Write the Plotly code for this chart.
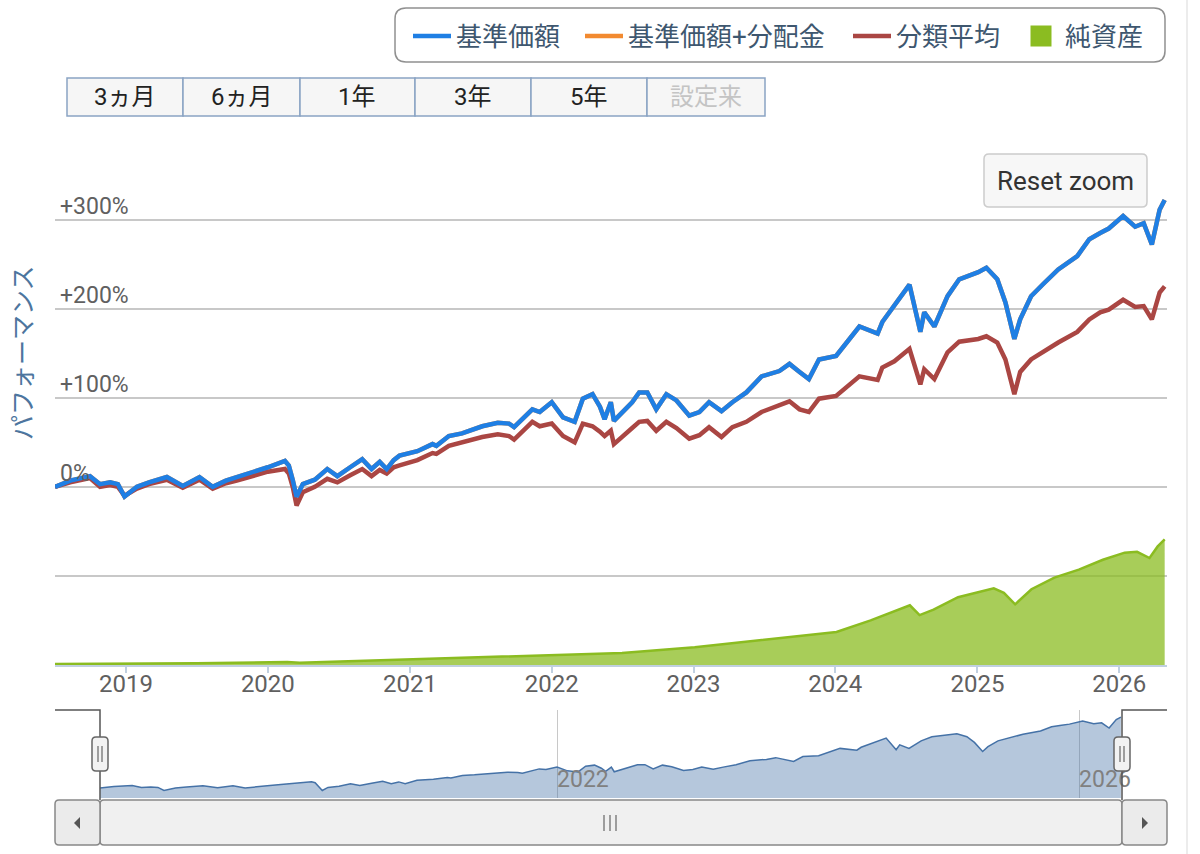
import plotly.graph_objects as go

W, H = 1200, 854
L, R = 55, 1167  # plot area left/right in px

# ---- data ----
dates = [
    "2018-07-02", "2018-08-10", "2018-09-30", "2018-10-26", "2018-11-21", "2018-12-11",
    "2018-12-28", "2019-01-29", "2019-03-01", "2019-04-16", "2019-05-27", "2019-07-09",
    "2019-08-12", "2019-09-15", "2019-10-13", "2019-11-20", "2020-01-01", "2020-02-14",
    "2020-02-24", "2020-03-05", "2020-03-15", "2020-03-31", "2020-05-01", "2020-06-02",
    "2020-06-28", "2020-07-31", "2020-08-31", "2020-09-24", "2020-10-15", "2020-11-02",
    "2020-11-20", "2020-12-05", "2021-01-20", "2021-02-28", "2021-03-10", "2021-04-11",
    "2021-05-15", "2021-07-06", "2021-08-15", "2021-09-13", "2021-09-26", "2021-11-12",
    "2021-12-01", "2022-01-01", "2022-01-30", "2022-03-01", "2022-03-22", "2022-04-16",
    "2022-05-05", "2022-05-17", "2022-06-02", "2022-06-10", "2022-07-27", "2022-08-14",
    "2022-09-04", "2022-09-27", "2022-10-23", "2022-11-18", "2022-12-21", "2023-01-16",
    "2023-02-10", "2023-03-14", "2023-04-11", "2023-05-17", "2023-06-25", "2023-08-10",
    "2023-09-05", "2023-10-01", "2023-10-25", "2023-11-20", "2024-01-03", "2024-03-03",
    "2024-04-19", "2024-05-01", "2024-06-01", "2024-07-10", "2024-08-07", "2024-08-17",
    "2024-09-12", "2024-10-16", "2024-11-15", "2025-01-03", "2025-01-24", "2025-02-21",
    "2025-03-14", "2025-04-06", "2025-04-21", "2025-05-19", "2025-06-20", "2025-07-28",
    "2025-09-15", "2025-10-16", "2025-11-13", "2025-12-05", "2026-01-11", "2026-02-11",
    "2026-03-05", "2026-03-26", "2026-04-15", "2026-04-28",
]
# 基準価額 performance (%)
nav_pct = [
    0, 7, 12, 3, 5, 3,
    -11, 0, 5, 11, 1, 11,
    0, 7, 11, 16, 22, 29,
    24, 8, -11, 3, 8, 20,
    12, 22, 31, 20, 28, 20,
    30, 35, 40, 48, 46, 57,
    60, 68, 72, 71, 67, 87,
    84, 95, 78, 73, 99, 104,
    90, 76, 95, 74, 95, 106,
    106, 87, 104, 97, 80, 84,
    95, 85, 95, 106, 124, 130,
    138, 129, 121, 143, 147, 180,
    172, 185, 203, 227, 174, 196,
    180, 214, 233, 241, 246, 233,
    207, 166, 188, 214, 228, 244,
    259, 278, 285, 290, 304, 292,
    296, 272, 311, 322,
]
# no distributions paid, so 基準価額+分配金 equals 基準価額
nav_dist_pct = list(nav_pct)
# 分類平均 performance (%)
cat_pct = [
    0, 5, 10, 0, 2, 0,
    -10, -2, 3, 8, -1, 8,
    -2, 4, 7, 12, 17, 20,
    15, 0, -21, -6, 0, 9,
    5, 13, 20, 12, 19, 15,
    22, 24, 30, 38, 37, 46,
    50, 56, 59, 57, 53, 73,
    68, 71, 57, 50, 71, 68,
    62, 57, 63, 48, 66, 73,
    74, 63, 73, 66, 54, 58,
    67, 56, 67, 73, 84, 91,
    96, 87, 84, 99, 102, 124,
    120, 134, 141, 155, 115, 132,
    121, 151, 163, 166, 169, 162,
    143, 104, 129, 143, 152, 162,
    174, 188, 196, 199, 210, 202,
    203, 188, 218, 225,
]
na_dates = [
    "2018-07-02", "2019-01-04", "2019-07-01", "2020-01-06", "2020-02-20", "2020-03-23",
    "2020-07-01", "2021-01-04", "2021-07-01", "2022-01-04", "2022-07-01", "2023-01-04",
    "2023-07-03", "2024-01-04", "2024-04-01", "2024-07-11", "2024-08-05", "2024-09-10",
    "2024-11-12", "2025-02-12", "2025-03-10", "2025-04-08", "2025-05-20", "2025-07-18",
    "2025-09-19", "2025-11-20", "2026-01-15", "2026-02-16", "2026-03-20", "2026-04-10",
    "2026-04-28",
]
# 純資産 (億円)
net_assets = [
    100, 120, 200, 300, 340, 250,
    380, 600, 900, 1150, 1350, 2000,
    2800, 3700, 5000, 6700, 5600, 6200,
    7600, 8600, 8100, 6800, 8500, 9800,
    10700, 11800, 12600, 12700, 12000, 13300,
    14100,
]

years = ["2019", "2020", "2021", "2022", "2023", "2024", "2025", "2026"]
perf_grid = [-200, -100, 0, 100, 200, 300, 400]
perf_ticks = [0, 100, 200, 300]
perf_labels = ["0%", "+100%", "+200%", "+300%"]
nav_years = ["2022", "2026"]
range_buttons = ["3ヵ月", "6ヵ月", "1年", "3年", "5年", "設定来"]

FONT = "Roboto, 'Noto Sans CJK JP', sans-serif"
BLUE = "#1f7fe4"
ORANGE = "#f28a30"
RED = "#aa4643"
GREEN = "#8bbc21"
GRID = "#c8c8c8"
AXIS = "#c0d0e0"


def px(x):
    return (x - L) / (R - L)


def py(y):
    return (H - y) / H


def rrect(x0, y0, x1, y1, r):
    p = [
        ("M", [(x0 + r, y0)]), ("L", [(x1 - r, y0)]), ("Q", [(x1, y0), (x1, y0 + r)]),
        ("L", [(x1, y1 - r)]), ("Q", [(x1, y1), (x1 - r, y1)]), ("L", [(x0 + r, y1)]),
        ("Q", [(x0, y1), (x0, y1 - r)]), ("L", [(x0, y0 + r)]), ("Q", [(x0, y0), (x0 + r, y0)]),
    ]
    s = ""
    for cmd, pts in p:
        s += cmd + " ".join(f"{px(a):.5f},{py(b):.5f}" for a, b in pts) + " "
    return s + "Z"


def poly(pts, close=False):
    s = "M" + " L".join(f"{px(a):.5f},{py(b):.5f}" for a, b in pts)
    return s + (" Z" if close else "")


fig = go.Figure()

fig.add_trace(go.Scatter(
    x=na_dates, y=net_assets, yaxis="y2", mode="lines", fill="tozeroy",
    line=dict(color=GREEN, width=2.5), fillcolor="rgba(139,188,33,0.75)",
    name="純資産", showlegend=False, legendgroup="na", hoverinfo="skip",
))
fig.add_trace(go.Scatter(x=dates, y=nav_dist_pct, mode="lines", name="基準価額+分配金",
                         line=dict(color=ORANGE, width=4.5), legend="legend2"))
fig.add_trace(go.Scatter(x=dates, y=cat_pct, mode="lines", name="分類平均",
                         line=dict(color=RED, width=4.5), legend="legend3"))
fig.add_trace(go.Scatter(x=dates, y=nav_pct, mode="lines", name="基準価額",
                         line=dict(color=BLUE, width=4.5), legend="legend"))
fig.add_trace(go.Scatter(
    x=[None], y=[None], mode="markers", name="純資産", legendgroup="na", legend="legend4",
    marker=dict(symbol="square", size=16, color=GREEN, line=dict(color=GREEN, width=5)),
))
# navigator: 基準価額 as index level (start = 100)
fig.add_trace(go.Scatter(
    x=dates, y=[100 + v for v in nav_pct], xaxis="x2", yaxis="y3", mode="lines",
    fill="tozeroy", line=dict(color="#4572a7", width=1.5),
    fillcolor="rgba(69,114,167,0.4)", showlegend=False, hoverinfo="skip",
))

shapes = []
# legend frame
shapes.append(dict(type="path", path=rrect(395, 8, 1165, 62, 11), xref="paper", yref="paper",
                   line=dict(color="#909090", width=1.5), layer="below"))
# range selector buttons
edges = [67, 183, 300, 415, 531, 647, 765]
for i in range(len(range_buttons)):
    shapes.append(dict(type="rect", xref="paper", yref="paper",
                       x0=px(edges[i]), x1=px(edges[i + 1]), y0=py(116), y1=py(78),
                       fillcolor="#f6f6f6", line=dict(color="#8aa4c4", width=1.5), layer="below"))
# reset zoom button
shapes.append(dict(type="path", path=rrect(984, 154, 1147, 207, 5), xref="paper", yref="paper",
                   fillcolor="#f7f7f7", line=dict(color="#cccccc", width=1.5)))
# navigator outline
shapes.append(dict(type="path", path=poly([(55, 710), (100, 710), (100, 800)]),
                   xref="paper", yref="paper", line=dict(color="#555555", width=1.5)))
shapes.append(dict(type="path", path=poly([(1122, 800), (1122, 710), (1167, 710)]),
                   xref="paper", yref="paper", line=dict(color="#555555", width=1.5)))
# navigator handles
for hx in (100, 1122):
    shapes.append(dict(type="path", path=rrect(hx - 8, 737, hx + 8, 771, 4), xref="paper",
                       yref="paper", fillcolor="#f2f2f2", line=dict(color="#666666", width=1.5)))
    for dx in (-2, 2):
        shapes.append(dict(type="line", xref="paper", yref="paper", x0=px(hx + dx), x1=px(hx + dx),
                           y0=py(746), y1=py(762), line=dict(color="#666666", width=1.2)))
# scrollbar
shapes.append(dict(type="path", path=rrect(100, 800, 1122, 845, 4), xref="paper", yref="paper",
                   fillcolor="#f0f0f0", line=dict(color="#888888", width=1.5)))
for bx0, bx1 in ((55, 100), (1122, 1167)):
    shapes.append(dict(type="path", path=rrect(bx0, 800, bx1, 845, 4), xref="paper", yref="paper",
                       fillcolor="#ebebeb", line=dict(color="#888888", width=1.5)))
shapes.append(dict(type="path", path=poly([(80, 817), (74, 823), (80, 829)], True), xref="paper",
                   yref="paper", fillcolor="#555555", line=dict(width=0)))
shapes.append(dict(type="path", path=poly([(1142, 817), (1148, 823), (1142, 829)], True),
                   xref="paper", yref="paper", fillcolor="#555555", line=dict(width=0)))
for gx in (604, 610, 616):
    shapes.append(dict(type="line", xref="paper", yref="paper", x0=px(gx), x1=px(gx),
                       y0=py(815), y1=py(831), line=dict(color="#666666", width=1.2)))
# page edge
shapes.append(dict(type="line", xref="paper", yref="paper", x0=px(1187), x1=px(1187),
                   y0=0, y1=1, line=dict(color="#e6e6e6", width=1.5)))

annotations = []
# performance labels sit just above their grid lines, inside the plot
for v, lab in zip(perf_ticks, perf_labels):
    annotations.append(dict(x=0, y=v, xref="paper", yref="y", text=lab, showarrow=False,
                            xanchor="left", yanchor="bottom", xshift=3, yshift=-2,
                            font=dict(size=23, color="#606060")))
centers = [(edges[i] + edges[i + 1]) / 2 for i in range(len(range_buttons))]
for i, lab in enumerate(range_buttons):
    annotations.append(dict(x=px(centers[i]), y=py(97), xref="paper", yref="paper", text=lab,
                            showarrow=False, xanchor="center", yanchor="middle",
                            font=dict(size=24, color="#c4c4c4" if i == 5 else "#222222")))
annotations.append(dict(x=px(1065.5), y=py(181), xref="paper", yref="paper", text="Reset zoom",
                        showarrow=False, xanchor="center", yanchor="middle",
                        font=dict(size=26, color="#333333")))
annotations.append(dict(x=px(23), y=py(353), xref="paper", yref="paper", text="パフォーマンス",
                        textangle=-90, showarrow=False, xanchor="center", yanchor="middle",
                        font=dict(size=25, color="#4d759e")))

leg = dict(orientation="h", yanchor="middle", y=py(36), xanchor="left", itemwidth=38,
           font=dict(size=26, color="#3e576f", family=FONT),
           bgcolor="rgba(0,0,0,0)", borderwidth=0)

fig.update_layout(
    width=W, height=H,
    margin=dict(l=L, r=W - R, t=0, b=0),
    paper_bgcolor="white", plot_bgcolor="white",
    font=dict(family=FONT),
    showlegend=True,
    legend=dict(leg, x=px(408)),
    legend2=dict(leg, x=px(580)),
    legend3=dict(leg, x=px(848)),
    legend4=dict(leg, x=px(1017)),
    xaxis=dict(
        domain=[0, 1], anchor="y", range=["2018-07-02", "2026-05-04"],
        tickvals=[f"{y}-01-01" for y in years], ticktext=years,
        ticks="outside", ticklen=6, tickwidth=1.5, tickcolor=AXIS, ticklabelstandoff=-10,
        showline=True, linecolor=AXIS, linewidth=1.5, showgrid=False, zeroline=False,
        tickfont=dict(size=24, color="#606060"),
    ),
    yaxis=dict(
        domain=[py(665), py(130)], range=[-200, 400.6],
        tickvals=perf_grid, showticklabels=False, ticks="",
        showgrid=True, gridcolor=GRID, gridwidth=1.5, zeroline=False, showline=False,
        layer="below traces",
    ),
    yaxis2=dict(overlaying="y", anchor="x", range=[0, 60000], visible=False),
    xaxis2=dict(
        domain=[0, 1], anchor="y3", range=["2018-02-26", "2026-09-04"],
        tickvals=[f"{y}-01-01" for y in nav_years], ticktext=nav_years,
        ticklabelposition="inside right", ticks="", showline=False, zeroline=False,
        showgrid=True, gridcolor=GRID, gridwidth=1,
        tickfont=dict(size=23, color="#808080"),
    ),
    yaxis3=dict(domain=[py(798), py(710)], anchor="x2", range=[55, 454], visible=False),
    shapes=shapes,
    annotations=annotations,
    hovermode=False,
)

fig.write_html("out.html", config={"displayModeBar": False},
               post_script="document.body.style.margin='0px';")
